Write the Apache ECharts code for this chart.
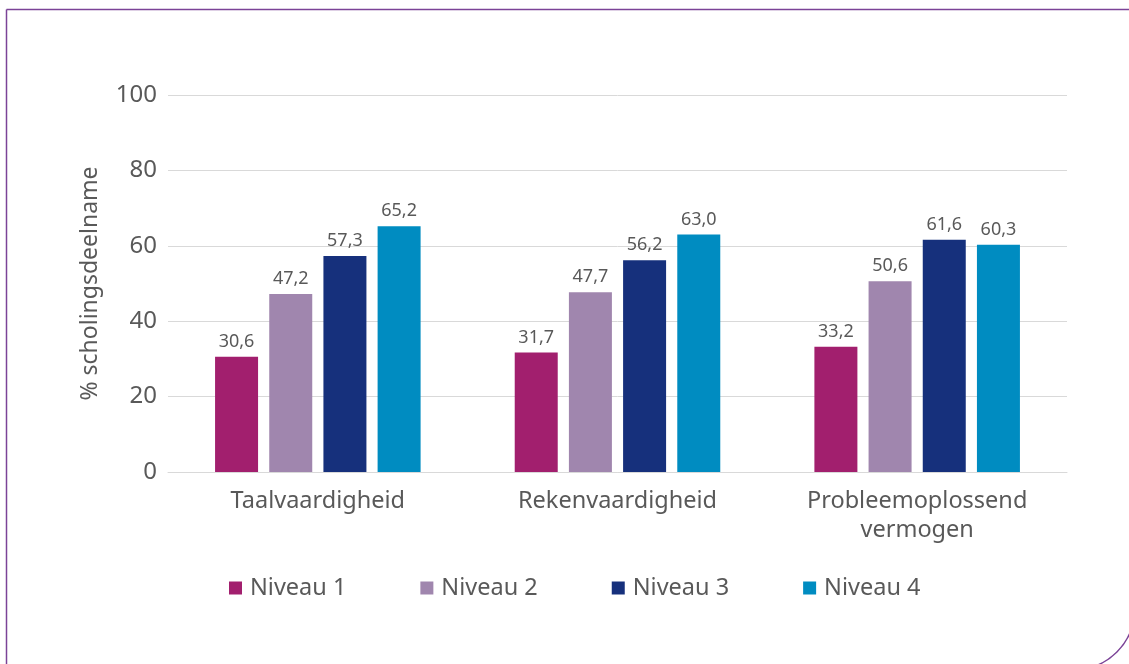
<!DOCTYPE html>
<html>
<head>
<meta charset="utf-8">
<script src="https://cdn.jsdelivr.net/npm/echarts@6/dist/echarts.min.js"></script>
<style>
  html, body { margin: 0; padding: 0; background: #ffffff; }
  #chart { width: 1129px; height: 664px; }
</style>
</head>
<body>
<div id="chart"></div>
<script>
// Vaardigheidsdomeinen en scholingsdeelname per vaardigheidsniveau (%)
const categories = ['Taalvaardigheid', 'Rekenvaardigheid', 'Probleemoplossend\nvermogen'];
const seriesNames = ['Niveau 1', 'Niveau 2', 'Niveau 3', 'Niveau 4'];
const niveau1 = [30.6, 31.7, 33.2];
const niveau2 = [47.2, 47.7, 50.6];
const niveau3 = [57.3, 56.2, 61.6];
const niveau4 = [65.2, 63.0, 60.3];
const colors = ['#A21F6E', '#A086AE', '#16307C', '#008CC1'];
const yTicks = { min: 0, max: 100, interval: 20 };

const FONT = '"Noto Sans", sans-serif';
const TEXT = '#595959';

const seriesData = [niveau1, niveau2, niveau3, niveau4];

const chart = echarts.init(document.getElementById('chart'), null, { renderer: 'canvas' });
chart.setOption({
  animation: false,
  textStyle: { fontFamily: FONT, color: TEXT },
  color: colors,
  grid: { left: 168, right: 62, top: 95, bottom: 192, containLabel: false },
  legend: {
    data: seriesNames,
    bottom: 59,
    left: 224,
    itemWidth: 13,
    itemHeight: 13,
    itemGap: 74,
    icon: 'rect',
    textStyle: { fontSize: 23.5, color: TEXT, fontFamily: FONT, padding: [0, 0, 0, 3] }
  },
  xAxis: {
    type: 'category',
    data: categories,
    axisLine: { show: true, lineStyle: { color: '#D9D9D9', width: 1 } },
    axisTick: { show: false },
    axisLabel: { fontSize: 23.5, color: TEXT, margin: 15, lineHeight: 29, fontFamily: FONT }
  },
  yAxis: {
    type: 'value',
    min: yTicks.min,
    max: yTicks.max,
    interval: yTicks.interval,
    name: '% scholingsdeelname',
    nameLocation: 'middle',
    nameGap: 66,
    nameRotate: 90,
    nameTextStyle: { fontSize: 23, color: TEXT, fontFamily: FONT },
    axisLine: { show: false },
    axisTick: { show: false },
    axisLabel: { fontSize: 24, color: TEXT, margin: 11, fontFamily: FONT },
    splitLine: { lineStyle: { color: '#D9D9D9', width: 1 } }
  },
  series: seriesNames.map((name, i) => ({
    name: name,
    type: 'bar',
    data: seriesData[i],
    barWidth: 43,
    barGap: '26%',
    itemStyle: { color: colors[i] },
    label: {
      show: true,
      position: 'top',
      distance: 6,
      fontSize: 18,
      color: TEXT,
      fontFamily: FONT,
      formatter: p => p.value.toFixed(1).replace('.', ',')
    }
  })),
  graphic: [{
    type: 'rect',
    silent: true,
    shape: { x: 6.5, y: 9.5, width: 1128, height: 660, r: [0, 0, 60, 0] },
    style: { fill: 'none', stroke: '#7B4397', lineWidth: 1.5 }
  }]
});
</script>
</body>
</html>
